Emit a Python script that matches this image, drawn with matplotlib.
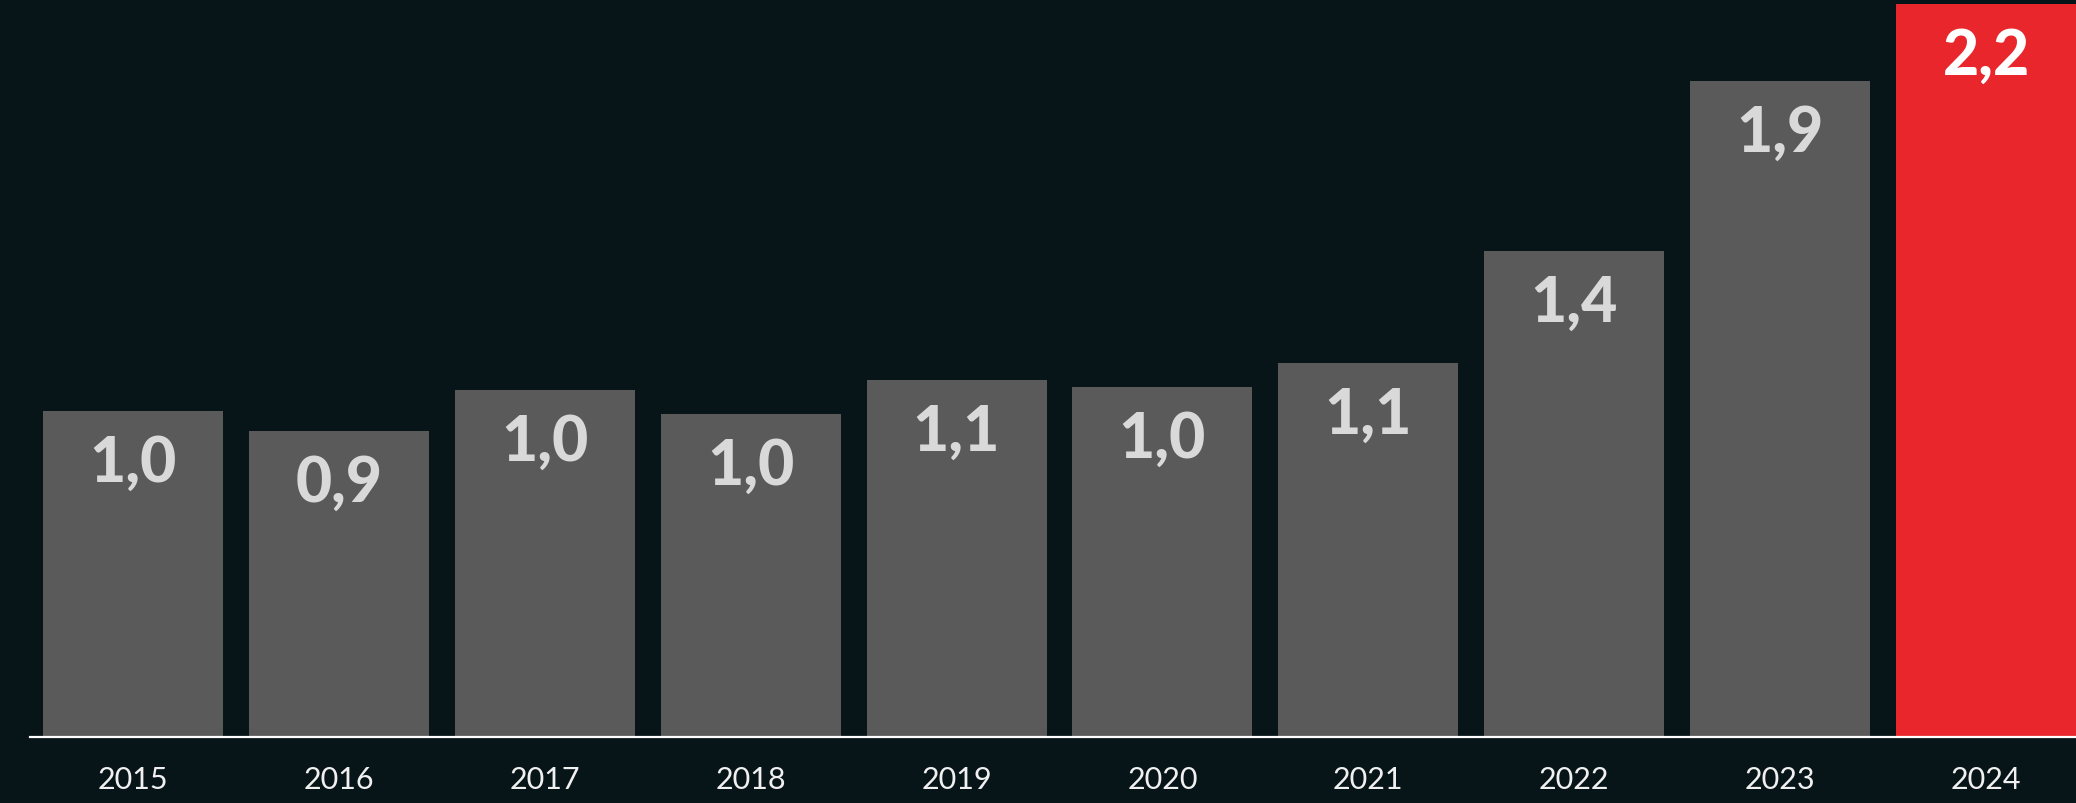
import matplotlib
matplotlib.use("Agg")
import matplotlib.pyplot as plt

years = ["2015", "2016", "2017", "2018", "2019", "2020", "2021", "2022", "2023", "2024"]
values = [0.96, 0.90, 1.02, 0.95, 1.05, 1.03, 1.10, 1.43, 1.93, 2.2]
highlight = "2024"

BG = "#071418"
GRAY = "#5a5a5a"
RED = "#e8262b"
LABEL_GRAY = "#d9d9d9"

W, H, DPI = 2076, 804, 100
fig = plt.figure(figsize=(W / DPI, H / DPI), dpi=DPI, facecolor=BG)
left, bottom_px, top_px = 30, 738, 5
ax = fig.add_axes([left / W, (H - bottom_px) / H, 1 - left / W, (bottom_px - top_px) / H])
ax.set_facecolor(BG)

y_top = 2.156
x = list(range(len(years)))
colors = [RED if y == highlight else GRAY for y in years]
ax.bar(x, values, width=0.874, color=colors, linewidth=0, zorder=2)

for xi, v, y in zip(x, values, years):
    txt = f"{v + 1e-9:.1f}".replace(".", ",")
    ax.annotate(txt, xy=(xi, min(v, y_top)), xytext=(0, -52), textcoords="offset pixels",
                ha="center", va="center", fontsize=45, fontweight="black", family="Lato",
                color="white" if y == highlight else LABEL_GRAY, zorder=3)

ax.set_xlim(-0.5, 9.437)
ax.set_ylim(0, y_top)
for s in ["top", "right", "left"]:
    ax.spines[s].set_visible(False)
ax.spines["bottom"].set_color("white")
ax.spines["bottom"].set_linewidth(1.6)
ax.spines["bottom"].set_zorder(4)
ax.set_yticks([])
ax.set_xticks(x)
ax.set_xticklabels(years, family="Lato", fontsize=22, color="#f0f0f0")
ax.tick_params(axis="x", length=0, pad=20)

fig.savefig("out.png", dpi=DPI, facecolor=BG)
